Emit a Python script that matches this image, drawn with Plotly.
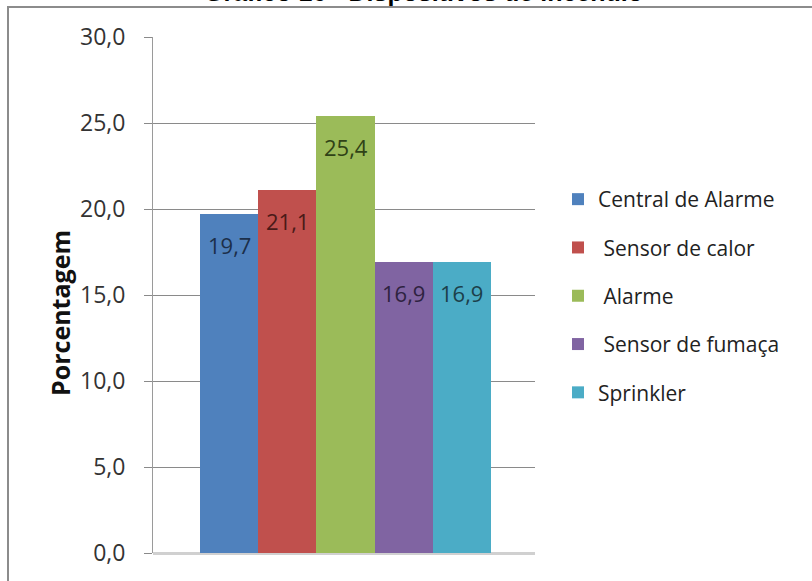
import plotly.graph_objects as go

# Dispositivos de incêndio - percentual por tipo
categorias = ["Central de Alarme", "\u00a0Sensor de calor", "\u00a0Alarme",
              "\u00a0Sensor de fumaça", "Sprinkler"]
valores = [19.7, 21.1, 25.4, 16.9, 16.9]
cores = ["#4f81bd", "#c0504d", "#9bbb59", "#8064a2", "#4bacc6"]
cores_rotulo = ["#1c2f4a", "#4a1a18", "#2f4216", "#2e2240", "#1c3f4a"]
ticks_y = [0, 5, 10, 15, 20, 25, 30]

W, H = 812, 581
L, R, T, B = 153, 535, 37, 553  # plot area in pixels

FONT = "'Open Sans', 'Noto Sans', sans-serif"

fig = go.Figure()
for i, (nome, v, c) in enumerate(zip(categorias, valores, cores)):
    fig.add_trace(go.Bar(
        x=[i], y=[v], name=nome, width=1.0,
        marker=dict(color=c, line=dict(width=0)),
        legendgroup=f"g{i}", hoverinfo="skip",
    ))
    fig.add_annotation(
        x=i, y=v, xref="x", yref="y", text=f"{v:.1f}".replace(".", ","),
        showarrow=False, yshift=-31, font=dict(family=FONT, size=22, color=cores_rotulo[i]),
    )

def px_x(p):
    return (p - L) / (R - L)

def px_y(p):
    return (B - p) / (B - T)

# outer frame
fig.add_shape(type="rect", xref="paper", yref="paper",
              x0=px_x(8), x1=px_x(830), y0=px_y(600), y1=px_y(7),
              line=dict(color="#8c8c8c", width=2), layer="below")

# title (runs off the top edge of the page)
fig.add_annotation(xref="paper", yref="paper", x=px_x(423), y=px_y(8.5),
                   xanchor="center", yanchor="bottom", showarrow=False,
                   text="<b>Gráfico 16 - Dispositivos de incêndio</b>",
                   font=dict(family="Liberation Sans, Arial, sans-serif", size=25, color="#000"))

# y axis title
fig.add_annotation(xref="paper", yref="paper", x=px_x(60), y=px_y(313),
                   xanchor="center", yanchor="middle", showarrow=False, textangle=-90,
                   text="<b>Porcentagem</b>",
                   font=dict(family=FONT, size=25, color="#111"))

fig.update_layout(
    width=W, height=H,
    margin=dict(l=L, r=W - R, t=T, b=H - B, pad=0),
    paper_bgcolor="white", plot_bgcolor="white",
    barmode="overlay", bargap=0,
    separators=", ",
    font=dict(family=FONT, size=21, color="#222"),
    showlegend=True,
    legend=dict(x=px_x(558), xanchor="left", y=px_y(296), yanchor="middle",
                traceorder="grouped", tracegroupgap=18,
                font=dict(family=FONT, size=21, color="#222"),
                bgcolor="rgba(0,0,0,0)"),
    xaxis=dict(range=[-1.306, 5.254], showticklabels=False, showgrid=False,
               zeroline=False, showline=False, ticks="", fixedrange=True),
    yaxis=dict(range=[0, 30], tickvals=ticks_y, tickformat=".1f",
               showgrid=True, gridcolor="#8a8a8a", gridwidth=1,
               zeroline=True, zerolinecolor="#d0d0d0", zerolinewidth=3,
               showline=True, linecolor="#9a9a9a", linewidth=1,
               ticks="outside", ticklen=8, tickcolor="#8a8a8a",
               ticklabelstandoff=14,
               tickfont=dict(family=FONT, size=23, color="#333")),
)

fig.write_html("out.html")
